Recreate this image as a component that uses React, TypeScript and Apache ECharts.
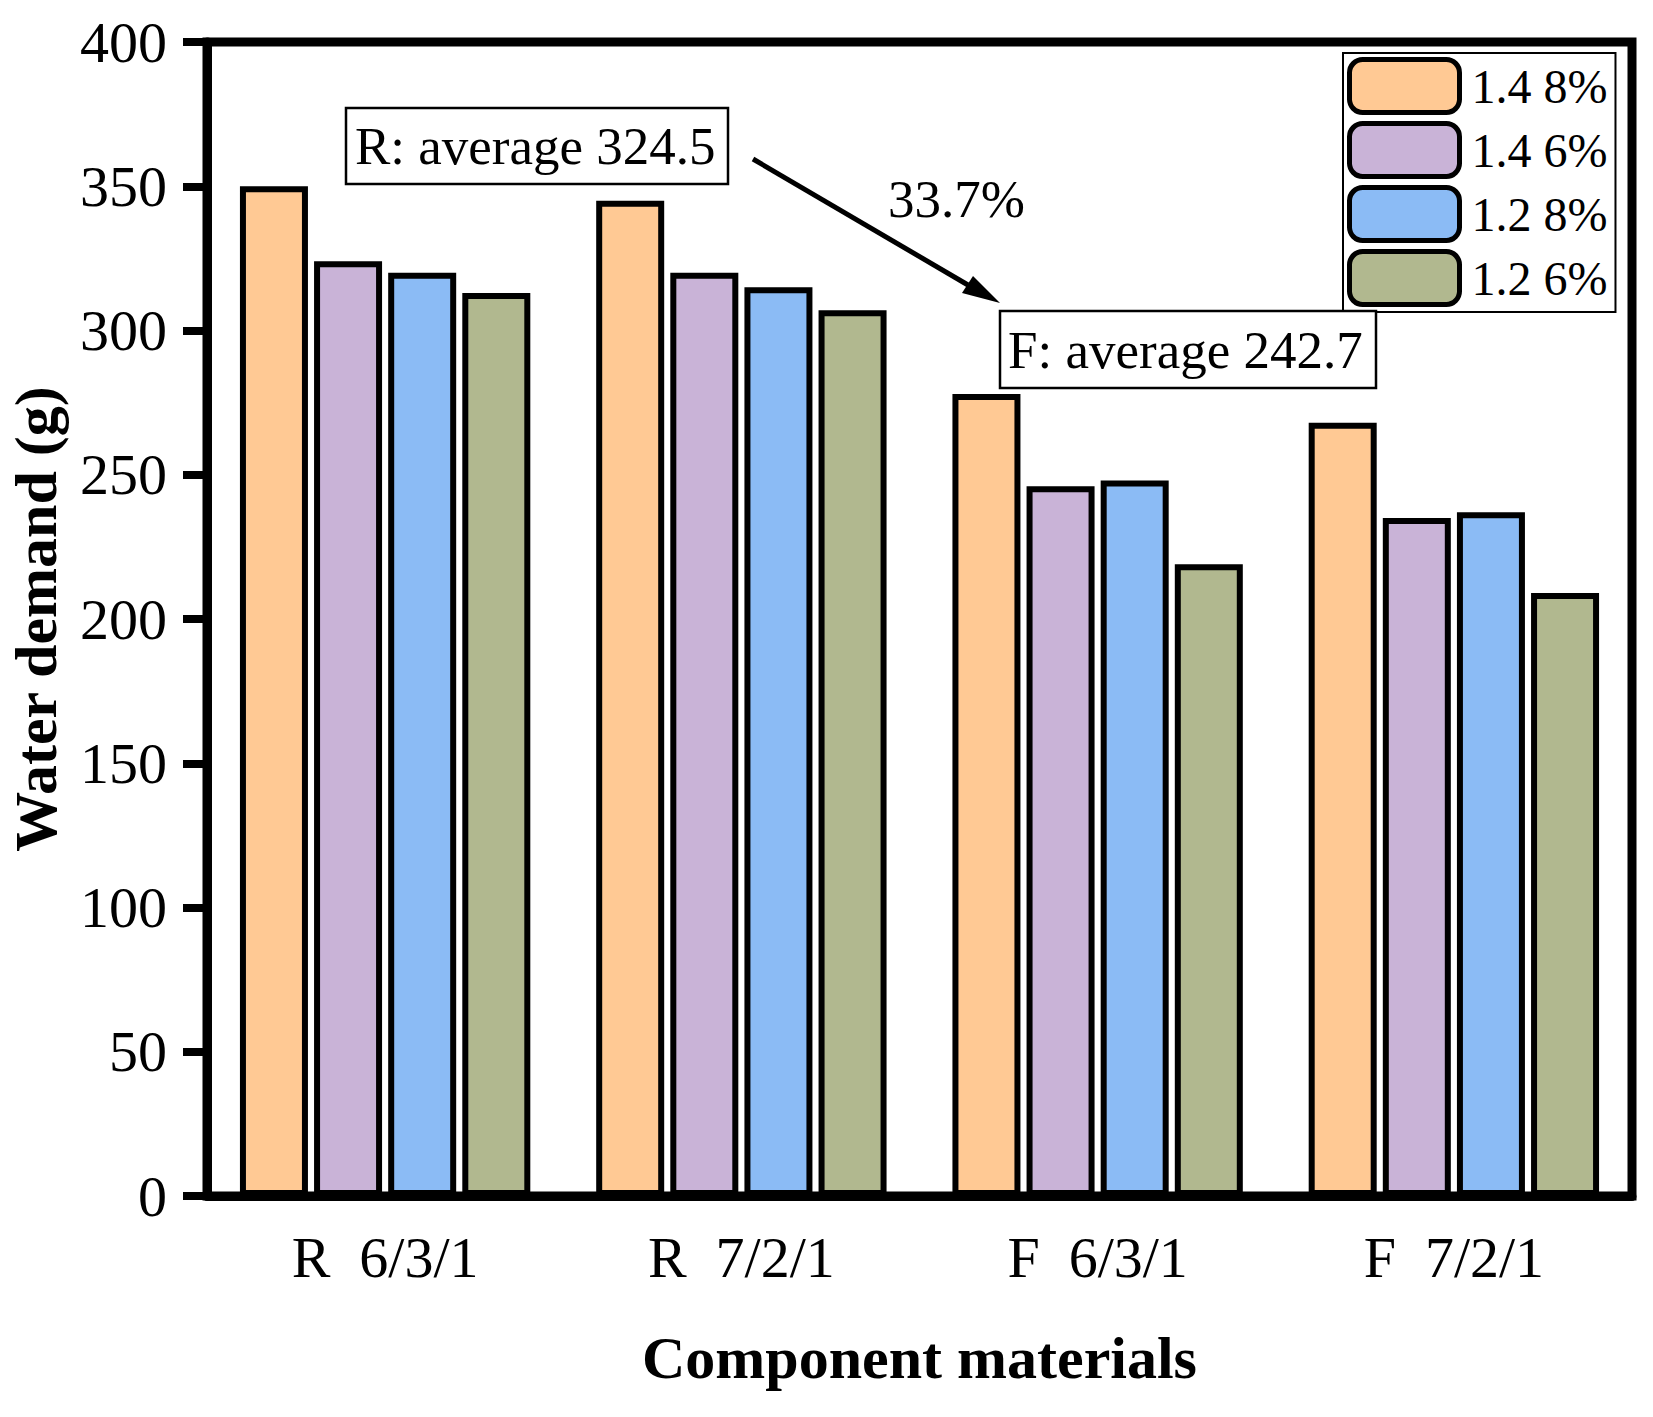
import { useEffect, useRef } from 'react';
import * as echarts from 'echarts';

const categories = ['R  6/3/1', 'R  7/2/1', 'F  6/3/1', 'F  7/2/1'];
const seriesNames = ['1.4 8%', '1.4 6%', '1.2 8%', '1.2 6%'];
const seriesColors = ['#FFC994', '#C9B3D7', '#8BBBF5', '#B1B88F'];

const water148 = [350, 345, 278, 268];
const water146 = [324, 320, 246, 235];
const water128 = [320, 315, 248, 237];
const water126 = [313, 307, 219, 209];

const yTicks = { min: 0, max: 400, interval: 50 };

const FONT = '"Liberation Serif", "Times New Roman", serif';

export default function App() {
  const chartRef = useRef<HTMLDivElement>(null);

  useEffect(() => {
    if (!chartRef.current) return;
    const chart = echarts.init(chartRef.current, undefined, { renderer: 'svg' });

    const allValues = [water148, water146, water128, water126];

    chart.setOption({
      animation: false,
      backgroundColor: '#fff',
      grid: {
        left: 207,
        right: 21,
        top: 42,
        bottom: 221,
        show: true,
        borderColor: '#000',
        borderWidth: 9,
        backgroundColor: 'transparent',
        outerBoundsMode: 'none',
      },
      legend: {
        orient: 'vertical',
        left: 1343,
        top: 53,
        icon: 'roundRect',
        itemWidth: 110,
        itemHeight: 53,
        itemGap: 6,
        padding: [4, 8, 5, 4],
        borderColor: '#000',
        borderWidth: 2,
        itemStyle: { borderColor: '#000', borderWidth: 5 },
        textStyle: { fontFamily: FONT, fontSize: 48, color: '#000', padding: [0, 0, 0, 7] },
        data: seriesNames,
      },
      xAxis: [
        {
          type: 'category',
          data: categories,
          position: 'bottom',
          axisLine: { lineStyle: { color: '#000', width: 9 } },
          axisTick: { alignWithLabel: true, length: 24, lineStyle: { color: '#000', width: 8 } },
          axisLabel: { margin: 32, fontFamily: FONT, fontSize: 58, color: '#000' },
          name: 'Component materials',
          nameLocation: 'middle',
          nameGap: 132,
          nameTextStyle: { fontFamily: FONT, fontSize: 60, fontWeight: 'bold', color: '#000' },
        },
        {
          type: 'category',
          data: categories,
          position: 'bottom',
          axisLine: { show: false },
          axisTick: { length: 11, lineStyle: { color: '#000', width: 8 } },
          axisLabel: { show: false },
        },
      ],
      yAxis: {
        type: 'value',
        min: yTicks.min,
        max: yTicks.max,
        interval: yTicks.interval,
        splitLine: { show: false },
        axisLine: { show: true, lineStyle: { color: '#000', width: 9 } },
        axisTick: { show: true, length: 24, lineStyle: { color: '#000', width: 8 } },
        axisLabel: { margin: 40, fontFamily: FONT, fontSize: 58, color: '#000' },
        name: 'Water demand (g)',
        nameLocation: 'middle',
        nameGap: 141,
        nameTextStyle: { fontFamily: FONT, fontSize: 60, fontWeight: 'bold', color: '#000' },
      },
      series: seriesNames.map((name, i) => ({
        name,
        type: 'bar',
        barWidth: 68,
        barGap: '9%',
        data: allValues[i],
        itemStyle: { color: seriesColors[i], borderColor: '#000', borderWidth: 6 },
      })),
      graphic: [
        {
          type: 'rect',
          z: 100,
          shape: { x: 346, y: 108, width: 382, height: 76 },
          style: { fill: '#fff', stroke: '#000', lineWidth: 2.5 },
        },
        {
          type: 'text',
          z: 101,
          style: {
            text: 'R: average 324.5',
            x: 355,
            y: 146,
            font: `53px ${FONT}`,
            verticalAlign: 'middle',
            fill: '#000',
          },
        },
        {
          type: 'rect',
          z: 100,
          shape: { x: 1000, y: 311, width: 376, height: 77 },
          style: { fill: '#fff', stroke: '#000', lineWidth: 2.5 },
        },
        {
          type: 'text',
          z: 101,
          style: {
            text: 'F: average 242.7',
            x: 1008,
            y: 350,
            font: `53px ${FONT}`,
            verticalAlign: 'middle',
            fill: '#000',
          },
        },
        {
          type: 'text',
          z: 101,
          style: {
            text: '33.7%',
            x: 888,
            y: 199,
            font: `53px ${FONT}`,
            verticalAlign: 'middle',
            fill: '#000',
          },
        },
        {
          type: 'line',
          z: 101,
          shape: { x1: 753, y1: 159, x2: 968, y2: 285 },
          style: { stroke: '#000', lineWidth: 5 },
        },
        {
          type: 'polygon',
          z: 101,
          shape: { points: [[1000, 303], [962, 293], [973, 276]] },
          style: { fill: '#000' },
        },
      ],
    });

    return () => {
      chart.dispose();
    };
  }, []);

  return (
    <div
      ref={chartRef}
      style={{ position: 'absolute', left: 0, top: 0, width: 1653, height: 1417 }}
    />
  );
}
